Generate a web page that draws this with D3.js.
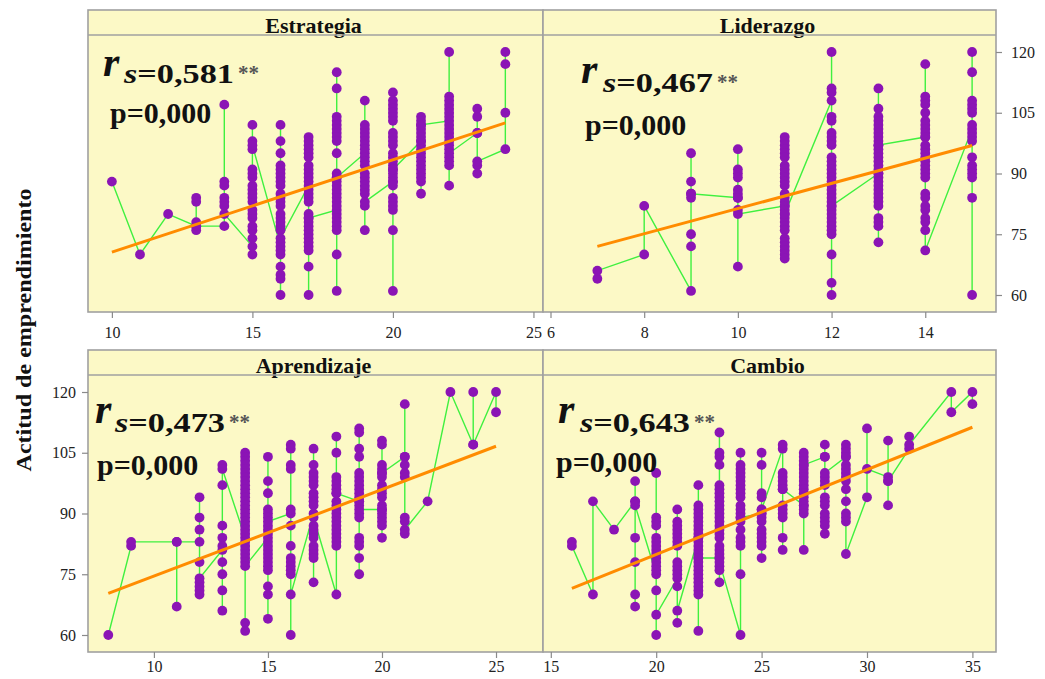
<!DOCTYPE html>
<html>
<head>
<meta charset="utf-8">
<script src="https://cdn.jsdelivr.net/npm/d3@7/dist/d3.min.js"></script>
<style>
	body { margin: 0; background: #fff; }
	svg text { font-family: "Liberation Serif", "Times New Roman", serif; }
</style>
</head>
<body>
<svg id="chart" width="1045" height="679"></svg>
<script>

// ---- data ----
var panelNames = ["Estrategia", "Liderazgo", "Aprendizaje", "Cambio"];
var rsValues = ["0,581", "0,467", "0,473", "0,643"];
var pValues = ["0,000", "0,000", "0,000", "0,000"];
var yTicks = [60, 75, 90, 105, 120];
var yLabel = "Actitud de emprendimiento";

var estrategiaTicks = [10, 15, 20, 25];
var estrategiaX = [10, 11, 12, 13, 14, 15, 16, 17, 18, 19, 20, 21, 22, 23, 24];
var estrategiaY = [
	[88],
	[70],
	[80],
	[77, 83, 84, 78, 76, 77],
	[77, 107, 88, 87, 84, 83, 82, 80],
	[72, 70, 74, 76, 77, 79, 80, 81, 83, 84, 85, 86, 87, 89, 90, 91, 96, 102, 98, 97],
	[72, 102, 98, 95, 92, 91, 90, 89, 88, 87, 85, 84, 83, 82, 80, 79, 78, 77, 76, 73, 71, 70, 67, 65, 64, 60, 74],
	[87, 99, 98, 97, 96, 95, 94, 92, 91, 90, 89, 88, 86, 85, 84, 83, 80, 79, 78, 77, 76, 75, 74, 73, 72, 71, 67, 60, 79],
	[81, 115, 111, 104, 103, 102, 101, 100, 99, 98, 95, 90, 89, 88, 87, 86, 85, 84, 83, 82, 80, 79, 78, 77, 76, 70, 61, 89],
	[95, 108, 102, 101, 100, 99, 98, 97, 96, 94, 93, 92, 90, 89, 88, 87, 86, 85, 82, 76, 83],
	[88, 110, 108, 107, 106, 105, 104, 103, 100, 99, 98, 97, 95, 94, 93, 92, 91, 90, 89, 88, 87, 84, 83, 82, 81, 76, 61, 91],
	[98, 104, 103, 102, 101, 100, 99, 98, 97, 96, 95, 94, 93, 92, 91, 90, 89, 88, 85, 102],
	[103, 120, 109, 108, 107, 106, 105, 104, 102, 101, 100, 99, 98, 97, 96, 94, 93, 92, 87, 95],
	[100, 106, 104, 100, 92, 90, 93],
	[96, 105, 117, 120]
];
var estrategiaFitX = [10, 24];
var estrategiaFitY = [70.6, 102.5];

var liderazgoTicks = [6, 8, 10, 12, 14];
var liderazgoX = [7, 8, 9, 10, 11, 12, 13, 14, 15];
var liderazgoY = [
	[64, 66],
	[70, 82],
	[61, 95, 88, 85, 84, 75, 72, 85],
	[84, 96, 91, 90, 89, 86, 85, 84, 81, 67, 80],
	[82, 99, 98, 97, 96, 95, 94, 92, 91, 90, 89, 88, 87, 85, 84, 83, 82, 81, 80, 79, 78, 77, 76, 74, 73, 72, 71, 70, 69, 80],
	[108, 120, 111, 110, 104, 103, 100, 99, 98, 97, 94, 93, 92, 91, 90, 89, 88, 87, 86, 85, 84, 83, 82, 81, 80, 79, 78, 77, 76, 75, 70, 63, 60, 82],
	[90, 111, 106, 104, 103, 102, 101, 100, 99, 98, 97, 96, 95, 94, 93, 92, 91, 90, 89, 88, 87, 86, 85, 84, 83, 82, 79, 78, 77, 73, 97],
	[99, 117, 109, 108, 107, 105, 103, 102, 101, 100, 99, 97, 96, 95, 94, 93, 92, 91, 90, 89, 85, 84, 82, 81, 79, 78, 76, 71],
	[101, 120, 115, 108, 107, 106, 105, 102, 100, 99, 98, 94, 92, 91, 90, 89, 84, 60]
];
var liderazgoFitX = [7, 15];
var liderazgoFitY = [72, 96.9];

var aprendizajeTicks = [10, 15, 20, 25];
var aprendizajeX = [8, 9, 11, 12, 13, 14, 15, 16, 17, 18, 19, 20, 21, 22, 23, 24, 25];
var aprendizajeY = [
	[60],
	[82, 83],
	[83, 67, 83],
	[83, 94, 89, 86, 78, 73, 72, 71, 70, 74],
	[81, 102, 97, 87, 84, 82, 78, 75, 71, 66, 101],
	[84, 105, 104, 103, 102, 101, 100, 99, 98, 97, 96, 95, 94, 93, 92, 91, 90, 89, 88, 87, 86, 85, 83, 82, 81, 80, 79, 78, 63, 61, 77],
	[84, 104, 98, 95, 91, 90, 89, 87, 86, 85, 83, 82, 81, 80, 79, 78, 77, 76, 72, 70, 64, 88],
	[90, 107, 106, 102, 101, 91, 87, 82, 79, 78, 77, 76, 75, 60, 70],
	[90, 106, 102, 100, 99, 98, 97, 95, 94, 93, 92, 87, 86, 85, 84, 82, 81, 80, 79, 73, 89],
	[70, 109, 105, 99, 98, 97, 96, 95, 93, 92, 91, 90, 89, 88, 87, 86, 85, 84, 83, 82, 95],
	[93, 111, 110, 106, 104, 100, 99, 98, 97, 96, 95, 94, 93, 92, 90, 89, 84, 83, 82, 79, 75, 91],
	[91, 108, 107, 102, 101, 100, 99, 97, 96, 95, 94, 92, 91, 90, 89, 88, 87, 84, 100],
	[104, 117, 104, 102, 100, 99, 89, 88, 85, 86],
	[93],
	[120],
	[107, 120, 107],
	[120, 115]
];
var aprendizajeFitX = [8, 25];
var aprendizajeFitY = [70.3, 106.6];

var cambioTicks = [15, 20, 25, 30, 35];
var cambioX = [16, 17, 18, 19, 20, 21, 22, 23, 24, 25, 26, 27, 28, 29, 30, 31, 32, 34, 35];
var cambioY = [
	[83, 82],
	[70, 93],
	[86],
	[93, 98, 93, 84, 78, 70, 67, 92],
	[75, 100, 89, 88, 87, 84, 83, 82, 81, 80, 79, 78, 77, 76, 71, 60, 65],
	[74, 91, 88, 87, 86, 85, 84, 83, 82, 78, 77, 76, 75, 72, 63, 66],
	[84, 97, 92, 91, 90, 89, 88, 87, 86, 85, 84, 83, 82, 81, 80, 79, 78, 77, 76, 75, 74, 73, 72, 71, 70, 61, 79],
	[79, 110, 105, 104, 102, 97, 96, 95, 94, 93, 92, 91, 90, 89, 88, 87, 86, 85, 84, 82, 81, 80, 79, 77, 76, 73, 78],
	[60, 105, 102, 101, 100, 99, 98, 97, 96, 95, 94, 92, 91, 90, 89, 88, 86, 84, 83, 82, 75, 89],
	[90, 105, 102, 95, 94, 91, 90, 89, 88, 86, 85, 84, 83, 82, 79, 91],
	[106, 107, 100, 99, 98, 97, 96, 92, 91, 90, 89, 84, 81, 96],
	[92, 105, 104, 103, 102, 101, 100, 99, 98, 97, 96, 95, 94, 93, 92, 91, 90, 81, 102],
	[104, 107, 104, 99, 98, 97, 94, 93, 92, 90, 89, 88, 87, 85, 100],
	[104, 107, 106, 105, 104, 102, 101, 100, 99, 98, 96, 93, 90, 89, 88, 80],
	[94, 111, 101],
	[99, 108, 98, 92, 98],
	[106, 109, 107],
	[120, 115],
	[120, 117]
];
var cambioFitX = [16, 35];
var cambioFitY = [71.5, 111.3];


/*
 * Panel - one cell of the trellis
 */
Panel = function(_svg, _config, _xs, _ys, _fitX, _fitY){
	this.svg = _svg;
	this.config = _config;
	this.xs = _xs;
	this.ys = _ys;
	this.fitX = _fitX;
	this.fitY = _fitY;

	this.initVis();
}

Panel.prototype.initVis = function(){
	var vis = this;
	var c = vis.config;

	vis.stripH = 25;
	vis.top = c.top + vis.stripH;

	vis.x = d3.scaleLinear().domain(c.xDomain).range([c.left, c.right]);
	vis.y = d3.scaleLinear().domain([55.8, 124.2]).range([c.bottom, vis.top]);

	vis.g = vis.svg.append("g").attr("class", "panel");

	// background + strip
	vis.g.append("rect")
		.attr("x", c.left).attr("y", c.top)
		.attr("width", c.right - c.left).attr("height", c.bottom - c.top)
		.attr("fill", "#fcf9c6");

	vis.g.append("text")
		.attr("x", (c.left + c.right) / 2 - 2)
		.attr("y", c.top + 23)
		.attr("text-anchor", "middle")
		.attr("font-size", "22px")
		.attr("font-weight", "bold")
		.attr("fill", "#111")
		.text(c.name);

	vis.wrangleData();
}

Panel.prototype.wrangleData = function(){
	var vis = this;

	// points in drawing order: every y of one x, then the next x
	vis.points = [];
	vis.xs.forEach(function(xv, i){
		vis.ys[i].forEach(function(yv){
			vis.points.push([xv, yv]);
		});
	});

	vis.updateVis();
}

Panel.prototype.updateVis = function(){
	var vis = this;
	var c = vis.config;

	var line = d3.line()
		.x(function(d){ return vis.x(d[0]); })
		.y(function(d){ return vis.y(d[1]); });

	vis.g.append("path")
		.datum(vis.points)
		.attr("d", line)
		.attr("fill", "none")
		.attr("stroke", "#3ff03f")
		.attr("stroke-width", 1.4);

	vis.g.selectAll("circle.dot")
		.data(vis.points)
		.enter()
		.append("circle")
		.attr("class", "dot")
		.attr("cx", function(d){ return vis.x(d[0]); })
		.attr("cy", function(d){ return vis.y(d[1]); })
		.attr("r", 4.9)
		.attr("fill", "#8b14b5");

	vis.g.append("path")
		.datum(d3.zip(vis.fitX, vis.fitY))
		.attr("d", line)
		.attr("stroke", "#ff8c00")
		.attr("stroke-width", 3);

	// frame
	vis.g.append("rect")
		.attr("x", c.left).attr("y", c.top)
		.attr("width", c.right - c.left).attr("height", c.bottom - c.top)
		.attr("fill", "none")
		.attr("stroke", "#a0a0a0")
		.attr("stroke-width", 1.6);
	vis.g.append("line")
		.attr("x1", c.left).attr("x2", c.right)
		.attr("y1", vis.top).attr("y2", vis.top)
		.attr("stroke", "#a0a0a0")
		.attr("stroke-width", 1.6);

	// x axis
	var xAxis = d3.axisBottom(vis.x).tickValues(c.xTicks).tickSize(6).tickPadding(c.xPad);
	var gx = vis.g.append("g")
		.attr("transform", "translate(0," + c.bottom + ")")
		.call(xAxis);
	styleAxis(gx);

	// y axis on the outer side only
	if (c.yAxis === "right"){
		var gy = vis.g.append("g")
			.attr("transform", "translate(" + c.right + ",0)")
			.call(d3.axisRight(vis.y).tickValues(yTicks).tickSize(6).tickPadding(9));
		styleAxis(gy);
	} else if (c.yAxis === "left"){
		var gy = vis.g.append("g")
			.attr("transform", "translate(" + c.left + ",0)")
			.call(d3.axisLeft(vis.y).tickValues(yTicks).tickSize(6).tickPadding(6));
		styleAxis(gy);
	}

	// annotation r_s and p
	var a = c.note;
	vis.g.append("text")
		.attr("x", a.rx).attr("y", a.ry)
		.attr("font-size", "42px")
		.attr("font-weight", "bold")
		.attr("font-style", "italic")
		.attr("fill", "#111")
		.text("r");

	var st = vis.g.append("text")
		.attr("x", a.rx + a.sdx).attr("y", a.ry + a.sdy)
		.attr("font-size", "27px")
		.attr("font-weight", "bold")
		.attr("fill", "#111")
		.attr("textLength", 110)
		.attr("lengthAdjust", "spacingAndGlyphs");
	st.append("tspan").attr("font-style", "italic").text("s");
	st.append("tspan").text("=" + c.rs);

	vis.g.append("text")
		.attr("x", a.rx + a.sdx + 114).attr("y", a.ry + a.sdy - 3)
		.attr("font-size", "21px")
		.attr("font-weight", "bold")
		.attr("fill", "#555")
		.text("**");

	vis.g.append("text")
		.attr("x", a.px).attr("y", a.py)
		.attr("font-size", "30px")
		.attr("font-weight", "bold")
		.attr("fill", "#111")
		.text("p=" + c.p);
}

function styleAxis(g){
	g.select(".domain").remove();
	g.selectAll(".tick line").attr("stroke", "#8a8a8a").attr("stroke-width", 1.2);
	g.selectAll(".tick text")
		.attr("fill", "#222")
		.attr("font-size", "16px")
		.style("font-family", "'Liberation Serif', serif");
}


var svg = d3.select("#chart");

var layouts = [
	{left: 88, right: 543, top: 10, bottom: 312, xDomain: [9.15, 25.34], xTicks: estrategiaTicks, xPad: 9, yAxis: "none",
		note: {rx: 103, ry: 76, sdx: 21, sdy: 7, px: 110, py: 123}},
	{left: 543, right: 996, top: 10, bottom: 312, xDomain: [5.84, 15.51], xTicks: liderazgoTicks, xPad: 9, yAxis: "right",
		note: {rx: 581, ry: 83, sdx: 22, sdy: 9, px: 585, py: 135}},
	{left: 88, right: 543, top: 350, bottom: 652, xDomain: [7.11, 27.06], xTicks: aprendizajeTicks, xPad: 3, yAxis: "left",
		note: {rx: 95, ry: 423, sdx: 20, sdy: 9, px: 97, py: 475}},
	{left: 543, right: 996, top: 350, bottom: 652, xDomain: [14.63, 36.12], xTicks: cambioTicks, xPad: 3, yAxis: "none",
		note: {rx: 558, ry: 423, sdx: 22, sdy: 9, px: 556, py: 472}}
];

var allX = [estrategiaX, liderazgoX, aprendizajeX, cambioX];
var allY = [estrategiaY, liderazgoY, aprendizajeY, cambioY];
var allFitX = [estrategiaFitX, liderazgoFitX, aprendizajeFitX, cambioFitX];
var allFitY = [estrategiaFitY, liderazgoFitY, aprendizajeFitY, cambioFitY];

var panels = [];
for (var i = 0; i < panelNames.length; i++){
	var cfg = layouts[i];
	cfg.name = panelNames[i];
	cfg.rs = rsValues[i];
	cfg.p = pValues[i];
	panels.push(new Panel(svg, cfg, allX[i], allY[i], allFitX[i], allFitY[i]));
}

// shared y title
svg.append("text")
	.attr("transform", "translate(31,330) rotate(-90)")
	.attr("text-anchor", "middle")
	.attr("font-size", "22px")
	.attr("font-weight", "bold")
	.attr("fill", "#111")
	.attr("textLength", 283)
	.attr("lengthAdjust", "spacingAndGlyphs")
	.text(yLabel);

</script>
</body>
</html>
